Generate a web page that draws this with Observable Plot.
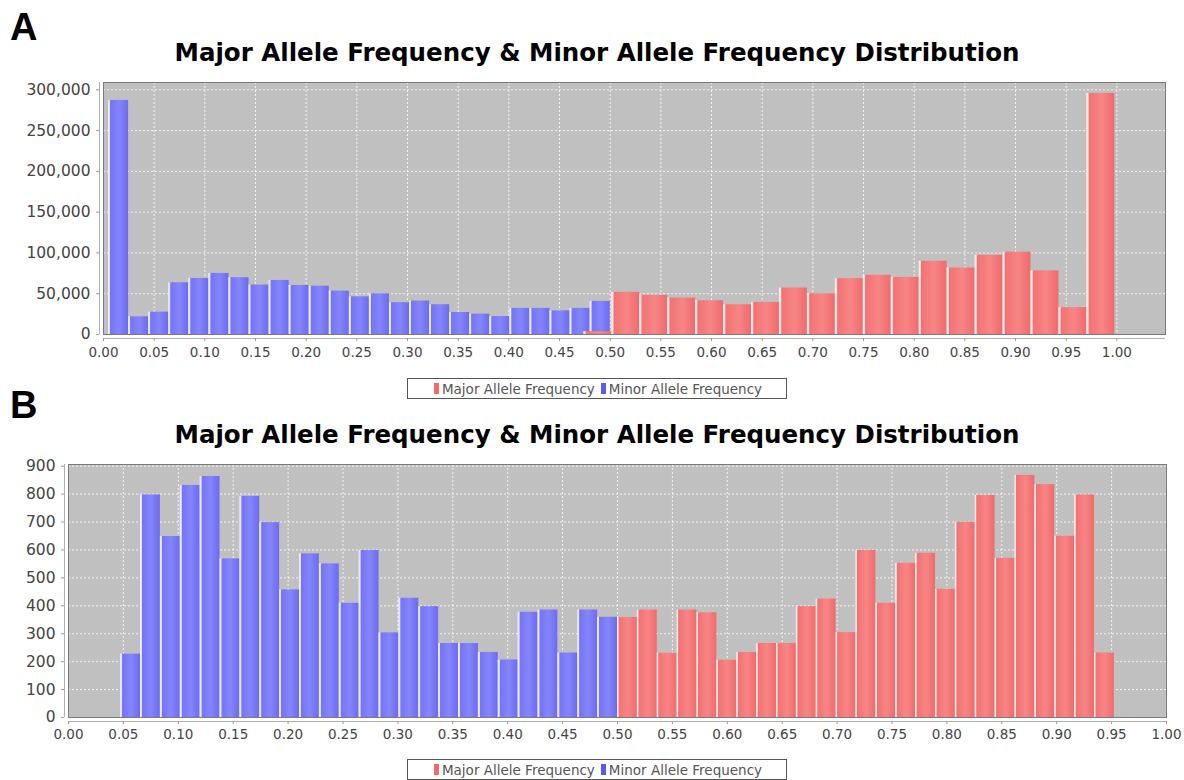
<!DOCTYPE html>
<html><head><meta charset="utf-8">
<script src="https://cdn.jsdelivr.net/npm/d3@7"></script>
<script src="https://cdn.jsdelivr.net/npm/@observablehq/plot@0.6"></script>
<style>
body{margin:0;background:#fff;}
#page{position:relative;width:1184px;height:780px;overflow:hidden;background:#fff;}
.panel{position:absolute;left:10px;font:bold 38px "Liberation Sans",Arial,sans-serif;line-height:38px;color:#000;}
.title{position:absolute;left:0;width:1194px;text-align:center;font:bold 24.5px "DejaVu Sans",sans-serif;line-height:24.5px;color:#000;white-space:nowrap;}
.legend{position:absolute;left:407px;width:380px;height:21px;box-sizing:border-box;border:1px solid #555;display:flex;align-items:center;justify-content:center;font:13.5px "DejaVu Sans",sans-serif;color:#555;white-space:nowrap;}
.sw{display:inline-block;width:5px;height:11px;margin:0 3px 0 2px;}
.chart{position:absolute;left:0;}
</style>
</head><body>
<div id="page">
  <div class="panel" style="top:8px">A</div>
  <div class="title" style="top:41px">Major Allele Frequency &amp; Minor Allele Frequency Distribution</div>
  <div class="chart" id="chartA" style="top:70px"></div>
  <div class="legend" style="top:378px"><span class="sw" style="background:#f26a6a"></span>Major Allele Frequency<span class="sw" style="background:#5a5af5;margin-left:6px"></span>Minor Allele Frequency</div>
  <div class="panel" style="top:386px">B</div>
  <div class="title" style="top:423px">Major Allele Frequency &amp; Minor Allele Frequency Distribution</div>
  <div class="chart" id="chartB" style="top:450px"></div>
  <div class="legend" style="top:759px"><span class="sw" style="background:#f26a6a"></span>Major Allele Frequency<span class="sw" style="background:#5a5af5;margin-left:6px"></span>Minor Allele Frequency</div>
</div>
<script>
// ---------- Data ----------
// Panel A: histogram counts per bin; bins span the given [min, max] range of each series
const aMinorRange = [0.005, 0.5];
const aMinorCounts = [287000, 21700, 27400, 63400, 68700, 74900, 69600, 60600, 66300, 60100,
  59300, 53200, 46200, 49900, 39000, 41000, 36500, 27000, 25000, 22000,
  32000, 32000, 29000, 32000, 40600];
const aMajorRange = [0.474, 0.998];
const aMajorCounts = [3500, 51700, 48000, 44700, 41400, 36500, 39400, 57000, 50000, 68500,
  72600, 70000, 89800, 81600, 97000, 101000, 78000, 33000, 295600];
const aYTicks = [0, 50000, 100000, 150000, 200000, 250000, 300000];

// Panel B
const bMinorRange = [0.0475, 0.5];
const bMinorCounts = [227, 797, 648, 831, 863, 568, 792, 698, 457, 586,
  550, 409, 598, 303, 427, 397, 265, 265, 233, 206,
  377, 385, 231, 385, 359];
const bMajorRange = [0.5, 0.9525];
const bMajorCounts = [358, 385, 230, 385, 375, 205, 233, 265, 265, 397,
  424, 304, 598, 409, 552, 588, 459, 699, 795, 570,
  867, 834, 649, 797, 231];
const bYTicks = [0, 100, 200, 300, 400, 500, 600, 700, 800, 900];

const xTicks = d3.range(0, 21).map(i => i / 20);

// ---------- Helpers ----------
function bins(counts, [lo, hi]) {
  const w = (hi - lo) / counts.length;
  return counts.map((c, i) => ({x1: lo + i * w, x2: lo + (i + 1) * w, y: c}));
}

function addGradients(svg, prefix) {
  const defs = d3.select(svg).insert("defs", ":first-child");
  const mk = (id, stops) => {
    const g = defs.append("linearGradient").attr("id", id)
      .attr("x1", "0").attr("x2", "1").attr("y1", "0").attr("y2", "0");
    stops.forEach(([o, c]) => g.append("stop").attr("offset", o).attr("stop-color", c));
  };
  mk(prefix + "Blue", [["0%", "#f4f4ff"], ["8%", "#e0e0ff"], ["12%", "#7474f6"], ["55%", "#8585fb"], ["100%", "#6b6bef"]]);
  mk(prefix + "Red", [["0%", "#fff2f2"], ["6%", "#ffe0e0"], ["10%", "#f27272"], ["55%", "#f88585"], ["100%", "#ee6b6b"]]);
}

function chart(el, prefix, cfg) {
  const svg = Plot.plot({
    width: 1184,
    height: cfg.height,
    marginTop: cfg.mt, marginBottom: cfg.mb, marginLeft: cfg.ml, marginRight: cfg.mr,
    style: {fontFamily: "DejaVu Sans, sans-serif", background: "transparent"},
    x: {domain: cfg.xDomain},
    y: {domain: cfg.yDomain},
    marks: [
      Plot.frame({fill: "#c0c0c0", stroke: "none"}),
      Plot.gridX(xTicks, {stroke: "#ffffff", strokeOpacity: 0.8, strokeDasharray: "2,2"}),
      Plot.gridY(cfg.yTicks, {stroke: "#ffffff", strokeOpacity: 0.8, strokeDasharray: "2,2"}),
      Plot.rectY(bins(cfg.minor, cfg.minorRange), {x1: "x1", x2: "x2", y: "y", fill: `url(#${prefix}Blue)`}),
      Plot.rectY(bins(cfg.major, cfg.majorRange), {x1: "x1", x2: "x2", y: "y", fill: `url(#${prefix}Red)`}),
      Plot.frame({stroke: "#7a7a7a"}),
      Plot.ruleY([0], {dy: 4, stroke: "#b0b0b0"}),
      Plot.ruleX([cfg.xDomain[0]], {dx: -4, stroke: "#b0b0b0"}),
      Plot.axisX(xTicks, {tickFormat: d3.format(".2f"), tickSize: 3, tickPadding: cfg.xpad, dy: 4,
        fontSize: 13.5, fill: "#444", stroke: "#999", label: null}),
      Plot.axisY(cfg.yTicks, {tickFormat: cfg.yFormat, tickSize: 3, tickPadding: 6, dx: -4,
        fontSize: 15.5, fill: "#444", stroke: "#999", label: null})
    ]
  });
  addGradients(svg, prefix);
  document.getElementById(el).appendChild(svg);
}

chart("chartA", "a", {
  height: 300, mt: 12, mb: 36, ml: 103, mr: 19,
  xDomain: [0, 1.048], yDomain: [0, 309000], yTicks: aYTicks, yFormat: d3.format(","),
  minor: aMinorCounts, minorRange: aMinorRange, major: aMajorCounts, majorRange: aMajorRange, xpad: 6
});
chart("chartB", "b", {
  height: 300, mt: 14, mb: 33, ml: 68, mr: 18,
  xDomain: [0, 1], yDomain: [0, 906], yTicks: bYTicks, yFormat: d3.format("d"),
  minor: bMinorCounts, minorRange: bMinorRange, major: bMajorCounts, majorRange: bMajorRange, xpad: 5
});
</script>
</body></html>
